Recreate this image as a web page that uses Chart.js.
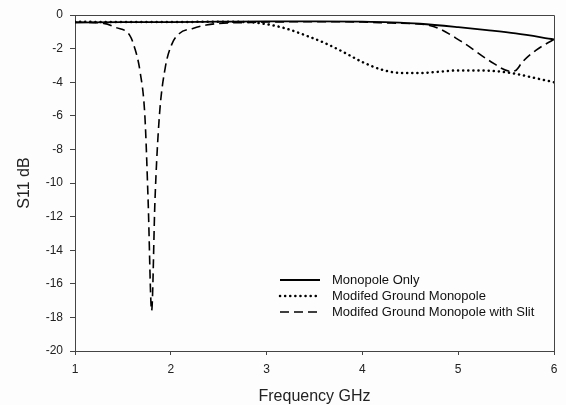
<!DOCTYPE html>
<html lang="en">
<head>
  <meta charset="UTF-8">
  <title>S11 vs Frequency</title>
  <script src="https://cdn.jsdelivr.net/npm/chart.js"></script>
  <style>
    html, body { margin: 0; padding: 0; background: #fdfdfd; }
    #wrap { width: 566px; height: 405px; }
  </style>
</head>
<body>
  <div id="wrap"><canvas id="s11Chart" width="566" height="405"></canvas></div>

  <script>
    // Monopole Only
    const freqMono = [1, 1.5, 2, 2.5, 3, 3.5, 4, 4.3, 4.6, 5, 5.3, 5.6, 6];
    const s11Mono = [-0.45, -0.43, -0.42, -0.4, -0.38, -0.38, -0.4, -0.44, -0.52, -0.72, -0.9, -1.1, -1.45];

    // Modifed Ground Monopole
    const freqGround = [1, 1.5, 2, 2.5, 2.8, 3, 3.2, 3.4, 3.6, 3.8, 4, 4.2, 4.4, 4.6, 4.8, 5, 5.2, 5.4, 5.6, 5.8, 6];
    const s11Ground = [-0.4, -0.42, -0.42, -0.4, -0.42, -0.55, -0.8, -1.2, -1.65, -2.2, -2.8, -3.25, -3.45, -3.45, -3.38, -3.3, -3.3, -3.35, -3.5, -3.75, -4.0];

    // Modifed Ground Monopole with Slit
    const freqSlit = [1, 1.3, 1.43, 1.57, 1.62, 1.68, 1.73, 1.763, 1.8, 1.835, 1.88, 1.94, 2.01, 2.09, 2.23, 2.37, 2.5, 2.8, 3, 3.5, 4, 4.3, 4.7, 5.04, 5.32, 5.55, 5.6, 5.67, 5.81, 6];
    const s11Slit = [-0.42, -0.5, -0.75, -1.2, -1.9, -3.4, -6.07, -11, -17.6, -11, -6.07, -3.2, -1.75, -1.1, -0.8, -0.6, -0.5, -0.45, -0.42, -0.4, -0.42, -0.48, -0.62, -1.6, -2.7, -3.35, -3.3, -2.8, -2.1, -1.45];

    const seriesNames = ['Monopole Only', 'Modifed Ground Monopole', 'Modifed Ground Monopole with Slit'];
    const xTicks = [1, 2, 3, 4, 5, 6];
    const yTicks = [0, -2, -4, -6, -8, -10, -12, -14, -16, -18, -20];

    const fontFamily = '"Liberation Sans", Arial, sans-serif';
    const toPoints = (xs, ys) => xs.map((x, i) => ({ x: x, y: ys[i] }));

    // frame on top/right + legend inside the plot
    const framePlugin = {
      id: 'frame',
      afterDraw(chart) {
        const { ctx, chartArea: a } = chart;
        ctx.save();
        ctx.strokeStyle = '#444';
        ctx.lineWidth = 1;
        ctx.beginPath();
        ctx.moveTo(a.left, a.top + 0.5);
        ctx.lineTo(a.right + 0.5, a.top + 0.5);
        ctx.lineTo(a.right + 0.5, a.bottom);
        ctx.stroke();

        // legend
        ctx.font = '13px ' + fontFamily;
        ctx.textBaseline = 'middle';
        ctx.fillStyle = '#111';
        const lx = 280, tx = 332, ys = [280, 296, 312];
        chart.data.datasets.forEach((ds, i) => {
          ctx.save();
          ctx.strokeStyle = ds.borderColor;
          ctx.lineWidth = ds.borderWidth;
          ctx.lineCap = ds.borderCapStyle || 'butt';
          ctx.setLineDash(ds.borderDash || []);
          ctx.beginPath();
          ctx.moveTo(lx, ys[i]);
          ctx.lineTo(lx + 40, ys[i]);
          ctx.stroke();
          ctx.restore();
          ctx.fillText(ds.label, tx, ys[i]);
        });
        ctx.restore();
      }
    };

    const ctx = document.getElementById('s11Chart').getContext('2d');
    new Chart(ctx, {
      type: 'line',
      data: {
        datasets: [
          {
            label: seriesNames[0],
            data: toPoints(freqMono, s11Mono),
            borderColor: '#000',
            borderWidth: 1.8,
            pointRadius: 0,
            cubicInterpolationMode: 'monotone'
          },
          {
            label: seriesNames[1],
            data: toPoints(freqGround, s11Ground),
            borderColor: '#000',
            borderWidth: 2.5,
            borderDash: [0.1, 5],
            borderCapStyle: 'round',
            pointRadius: 0,
            cubicInterpolationMode: 'monotone'
          },
          {
            label: seriesNames[2],
            data: toPoints(freqSlit, s11Slit),
            borderColor: '#000',
            borderWidth: 1.6,
            borderDash: [9, 5],
            pointRadius: 0,
            cubicInterpolationMode: 'monotone'
          }
        ]
      },
      options: {
        responsive: false,
        animation: false,
        layout: { padding: { top: 15, right: 12, left: 0, bottom: 0 } },
        plugins: {
          legend: { display: false },
          tooltip: { enabled: false }
        },
        scales: {
          x: {
            type: 'linear',
            min: 1,
            max: 6,
            afterFit(scale) { scale.height = 54; },
            afterBuildTicks(scale) { scale.ticks = xTicks.map(v => ({ value: v })); },
            grid: { drawOnChartArea: false, drawTicks: true, tickLength: 4, color: '#444' },
            border: { color: '#444', width: 1 },
            ticks: {
              color: '#222',
              padding: 7,
              maxRotation: 0,
              font: { family: fontFamily, size: 12 }
            },
            title: {
              display: true,
              text: 'Frequency GHz',
              color: '#222',
              padding: { top: 0, bottom: 0 },
              font: { family: fontFamily, size: 16, lineHeight: 1 }
            }
          },
          y: {
            min: -20,
            max: 0,
            afterFit(scale) { scale.width = 75; },
            afterBuildTicks(scale) { scale.ticks = yTicks.map(v => ({ value: v })); },
            grid: { drawOnChartArea: false, drawTicks: true, tickLength: 5, color: '#444' },
            border: { color: '#444', width: 1 },
            ticks: {
              color: '#222',
              padding: 7,
              font: { family: fontFamily, size: 12 }
            },
            title: {
              display: true,
              text: 'S11 dB',
              color: '#222',
              padding: { top: 17, bottom: 0 },
              font: { family: fontFamily, size: 16, lineHeight: 1 }
            }
          }
        }
      },
      plugins: [framePlugin]
    });
  </script>
</body>
</html>
